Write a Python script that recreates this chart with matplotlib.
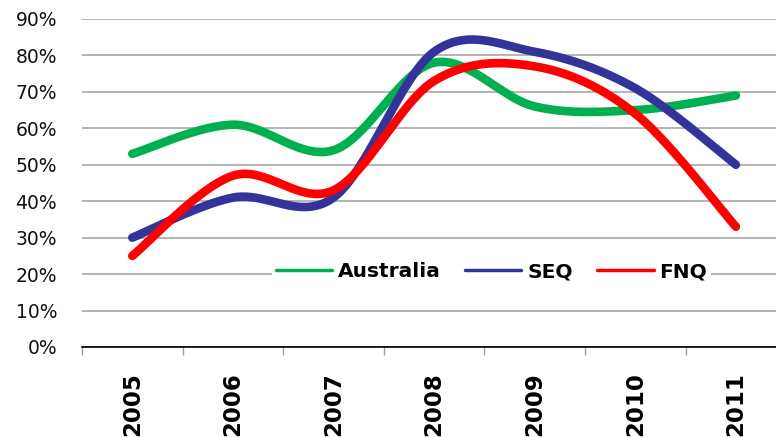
import numpy as np
import matplotlib
matplotlib.use("Agg")
import matplotlib.pyplot as plt

years = ["2005", "2006", "2007", "2008", "2009", "2010", "2011"]
australia = [53, 61, 54, 78, 66, 65, 69]
seq = [30, 41, 41, 81, 81, 71, 50]
fnq = [25, 47, 43, 73, 77, 64, 33]

colors = {"Australia": "#00B050", "SEQ": "#333399", "FNQ": "#FF0000"}


def smooth(y, n=40):
    # catmull-rom style smoothing like excel's "smoothed line"
    y = np.asarray(y, dtype=float) / 100.0
    x = np.arange(len(y), dtype=float)
    pts = np.column_stack([x, y])
    ext = np.vstack([pts[0], pts, pts[-1]])
    out = []
    for i in range(len(pts) - 1):
        p0, p1, p2, p3 = ext[i], ext[i + 1], ext[i + 2], ext[i + 3]
        m1 = (p2 - p0) / 2.0
        m2 = (p3 - p1) / 2.0
        t = np.linspace(0, 1, n)[:, None]
        h00 = 2 * t**3 - 3 * t**2 + 1
        h10 = t**3 - 2 * t**2 + t
        h01 = -2 * t**3 + 3 * t**2
        h11 = t**3 - t**2
        seg = h00 * p1 + h10 * m1 + h01 * p2 + h11 * m2
        out.append(seg if i == 0 else seg[1:])
    out = np.vstack(out)
    return out[:, 0], out[:, 1]


fig = plt.figure(figsize=(7.76, 4.37), dpi=100)
ax = fig.add_axes([82 / 776, 90 / 437, 694 / 776, 328 / 437])

for name, vals in [("Australia", australia), ("SEQ", seq), ("FNQ", fnq)]:
    xs, ys = smooth(vals)
    ax.plot(xs, ys, color=colors[name], lw=6.2, solid_capstyle="round",
            label=name, zorder=3)

ax.set_yticks(np.arange(0, 0.91, 0.1))
ax.set_yticklabels([f"{int(round(v * 100))}%" for v in np.arange(0, 0.91, 0.1)])
ax.grid(axis="y", color="#A0A0A0", lw=1.1)
ax.set_axisbelow(True)

for s in ["top", "right", "left"]:
    ax.spines[s].set_visible(False)
ax.spines["bottom"].set_color("black")
ax.spines["bottom"].set_linewidth(1.2)
ax.spines["bottom"].set_zorder(4)

ax.set_xticks(np.arange(len(years)))
ax.set_xticklabels(years, rotation=90, fontsize=16.5, fontweight="bold", va="top")
ax.set_xticks(np.arange(len(years) + 1) - 0.5, minor=True)
ax.tick_params(axis="x", which="major", length=0, pad=18)
ax.tick_params(axis="x", which="minor", length=6, color="#A0A0A0", width=1)
ax.tick_params(axis="y", length=0, pad=18, labelsize=13.5, labelcolor="#111111")

# limits after the ticks, otherwise the minor tick at 6.5 widens the view
ax.set_ylim(0, 0.9)
ax.set_xlim(-0.5, -0.5 + 694 / 100.6)

leg = ax.legend(loc="center", bbox_to_anchor=(0.59, 0.229), ncol=3, frameon=True,
                prop={"weight": "bold", "size": 14.5}, handlelength=2.8,
                handletextpad=0.3, columnspacing=1.2, borderpad=0.2,
                fancybox=False)
leg.get_frame().set_facecolor("white")
leg.get_frame().set_edgecolor("none")
leg.get_frame().set_alpha(1)
for line in leg.get_lines():
    line.set_linewidth(2.5)
leg.set_zorder(5)

fig.savefig("out.png", dpi=100)
